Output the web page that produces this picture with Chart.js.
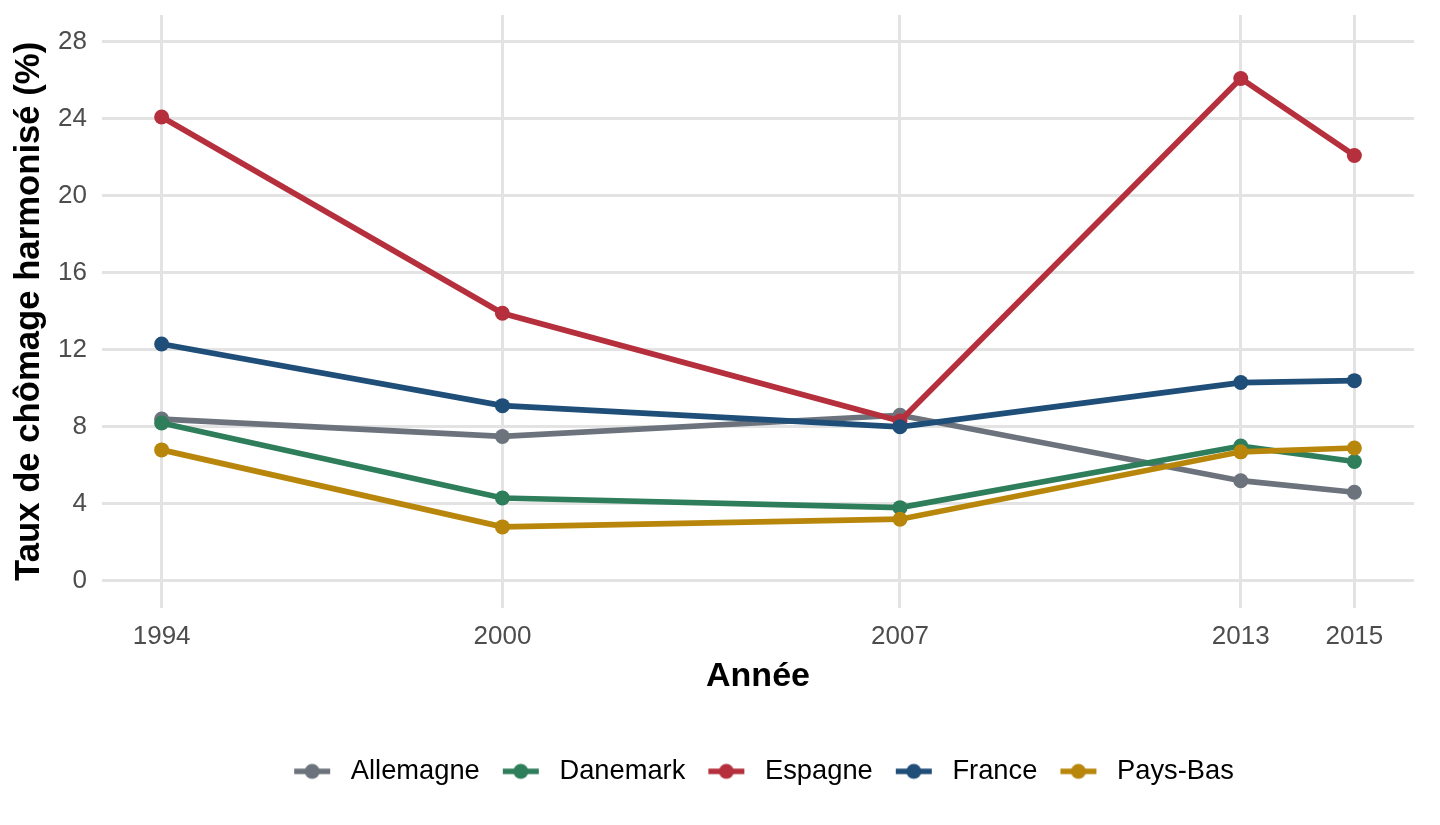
<!DOCTYPE html>
<html>
<head>
<meta charset="utf-8">
<script src="https://cdn.jsdelivr.net/npm/chart.js@4/dist/chart.umd.min.js"></script>
<style>
  html, body { margin: 0; padding: 0; background: #ffffff; }
  #wrap { width: 1440px; height: 825px; position: relative; }
</style>
</head>
<body>
<div id="wrap"><canvas id="c" width="1440" height="825"></canvas></div>
<script>
// ---- Data ----
const years = [1994, 2000, 2007, 2013, 2015];
const allemagne = [8.4, 7.5, 8.6, 5.2, 4.6];
const danemark  = [8.2, 4.3, 3.8, 7.0, 6.2];
const espagne   = [24.1, 13.9, 8.3, 26.1, 22.1];
const france    = [12.3, 9.1, 8.0, 10.3, 10.4];
const paysBas   = [6.8, 2.8, 3.2, 6.7, 6.9];
const seriesNames = ['Allemagne', 'Danemark', 'Espagne', 'France', 'Pays-Bas'];
const yTicks = [0, 4, 8, 12, 16, 20, 24, 28];
const xTicks = years;

// ---- Styles ----
const colors = ['#6C737C', '#2E7D5B', '#B5303C', '#1F4E79', '#B8860B'];
const seriesValues = [allemagne, danemark, espagne, france, paysBas];
const FONT = "'Liberation Sans', Arial, Helvetica, sans-serif";

function legendIcon(color) {
  const cv = document.createElement('canvas');
  cv.width = 55; cv.height = 18;
  const g = cv.getContext('2d');
  g.strokeStyle = color; g.lineWidth = 5.5;
  g.beginPath(); g.moveTo(12, 9); g.lineTo(48, 9); g.stroke();
  g.fillStyle = color;
  g.beginPath(); g.arc(30, 9, 7.5, 0, Math.PI * 2); g.fill();
  return cv;
}
const icons = colors.map(legendIcon);

const datasets = seriesNames.map((name, i) => ({
  label: name,
  data: years.map((y, k) => ({ x: y, y: seriesValues[i][k] })),
  borderColor: colors[i],
  backgroundColor: colors[i],
  borderWidth: 5.7,
  pointRadius: 7.5,
  pointHoverRadius: 7.5,
  pointBorderWidth: 0,
  pointBackgroundColor: colors[i],
  tension: 0,
  order: seriesNames.length - i
}));

// Center the legend on the plot panel (as in the reference)
const legendOnPanel = {
  id: 'legendOnPanel',
  afterLayout(chart) {
    if (chart.legend) {
      chart.legend.left = chart.chartArea.left;
      chart.legend.right = chart.chartArea.right;
    }
  }
};

new Chart(document.getElementById('c'), {
  type: 'line',
  data: { datasets },
  plugins: [legendOnPanel],
  options: {
    responsive: false,
    animation: false,
    devicePixelRatio: 1,
    layout: { padding: { top: 15, left: 0, right: 26, bottom: 30 } },
    plugins: {
      tooltip: { enabled: false },
      legend: {
        position: 'bottom',
        labels: {
          usePointStyle: true,
          pointStyleWidth: 55,
          boxHeight: 16,
          padding: 11,
          color: '#000000',
          font: { family: FONT, size: 27.3 },
          sort: (a, b) => a.datasetIndex - b.datasetIndex,
          generateLabels: (chart) => {
            const items = Chart.defaults.plugins.legend.labels.generateLabels(chart);
            items.forEach(it => { it.pointStyle = icons[it.datasetIndex]; });
            return items;
          }
        }
      }
    },
    scales: {
      x: {
        type: 'linear',
        min: 1992.95,
        max: 2016.05,
        afterBuildTicks: (s) => { s.ticks = xTicks.map(v => ({ value: v })); },
        afterFit: (s) => { s.height = 139; s.paddingLeft = 0; s.paddingRight = 0; },
        ticks: {
          autoSkip: false,
          maxRotation: 0,
          padding: 14,
          color: '#4D4D4D',
          font: { family: FONT, size: 26 },
          callback: (v) => String(v)
        },
        grid: { color: '#E3E3E3', lineWidth: 3, drawTicks: false },
        border: { display: false },
        title: {
          display: true,
          text: 'Année',
          color: '#000000',
          font: { family: FONT, size: 34, weight: 'bold' },
          padding: { top: 0, bottom: 50 }
        }
      },
      y: {
        type: 'linear',
        min: -1.4,
        max: 29.4,
        afterBuildTicks: (s) => { s.ticks = yTicks.map(v => ({ value: v })); },
        afterFit: (s) => { s.width = 102; s.paddingTop = 0; s.paddingBottom = 0; },
        ticks: {
          padding: 15,
          color: '#4D4D4D',
          font: { family: FONT, size: 26 },
          callback: (v) => String(v)
        },
        grid: { color: '#E3E3E3', lineWidth: 3, drawTicks: false },
        border: { display: false },
        title: {
          display: true,
          text: 'Taux de chômage harmonisé (%)',
          color: '#000000',
          font: { family: FONT, size: 34.7, weight: 'bold' },
          padding: { top: 9, bottom: 0 }
        }
      }
    }
  }
});
</script>
</body>
</html>
